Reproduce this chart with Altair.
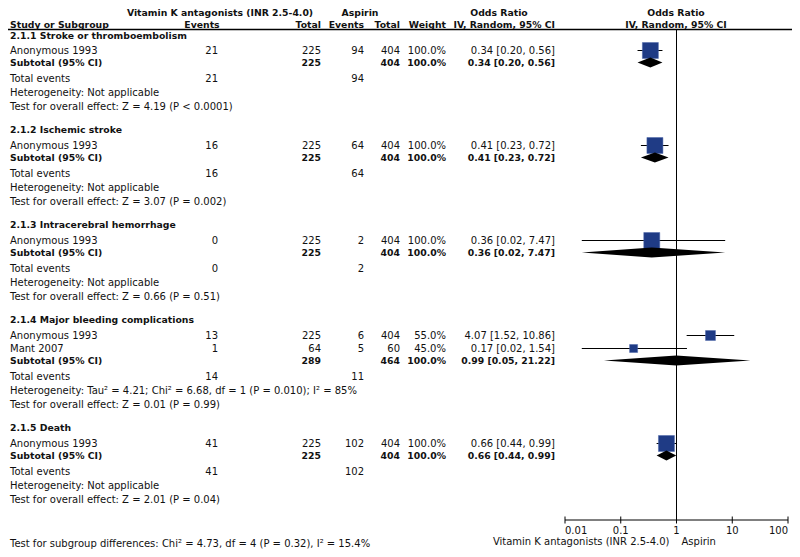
import altair as alt
import pandas as pd

# ---------------- data ----------------
group_titles = [
    "2.1.1 Stroke or thromboembolism",
    "2.1.2 Ischemic stroke",
    "2.1.3 Intracerebral hemorrhage",
    "2.1.4 Major bleeding complications",
    "2.1.5 Death",
]
study_group = [0, 1, 2, 3, 3, 4]
study_names = ["Anonymous 1993", "Anonymous 1993", "Anonymous 1993",
               "Anonymous 1993", "Mant 2007", "Anonymous 1993"]
vka_events = [21, 16, 0, 13, 1, 41]
vka_total = [225, 225, 225, 225, 64, 225]
asp_events = [94, 64, 2, 6, 5, 102]
asp_total = [404, 404, 404, 404, 60, 404]
study_weight = [100.0, 100.0, 100.0, 55.0, 45.0, 100.0]
study_or = [0.34, 0.41, 0.36, 4.07, 0.17, 0.66]
study_lo = [0.20, 0.23, 0.02, 1.52, 0.02, 0.44]
study_hi = [0.56, 0.72, 7.47, 10.86, 1.54, 0.99]

sub_vka_total = [225, 225, 225, 289, 225]
sub_asp_total = [404, 404, 404, 464, 404]
sub_or = [0.34, 0.41, 0.36, 0.99, 0.66]
sub_lo = [0.20, 0.23, 0.02, 0.05, 0.44]
sub_hi = [0.56, 0.72, 7.47, 21.22, 0.99]
tot_vka_events = [21, 16, 0, 14, 41]
tot_asp_events = [94, 64, 2, 11, 102]
heterogeneity = [
    "Not applicable", "Not applicable", "Not applicable",
    "Tau\u00b2 = 4.21; Chi\u00b2 = 6.68, df = 1 (P = 0.010); I\u00b2 = 85%",
    "Not applicable",
]
overall_effect = [
    "Z = 4.19 (P < 0.0001)", "Z = 3.07 (P = 0.002)", "Z = 0.66 (P = 0.51)",
    "Z = 0.01 (P = 0.99)", "Z = 2.01 (P = 0.04)",
]
subgroup_test = "Test for subgroup differences: Chi\u00b2 = 4.73, df = 4 (P = 0.32), I\u00b2 = 15.4%"
axis_ticks = [0.01, 0.1, 1, 10, 100]
axis_tick_labels = ["0.01", "0.1", "1", "10", "100"]
favours_left = "Vitamin K antagonists (INR 2.5-4.0)"
favours_right = "Aspirin"

# ---------------- layout ----------------
W, H = 784, 541
M = 8


def px(v):
    return v - M


X_STUDY, X_EV1, X_TOT1, X_EV2, X_TOT2, X_W, X_CI = 10, 218, 321, 364, 400, 446, 555
FOREST_L, FOREST_R = 565, 788
BLUE = "#1f3b85"
INK = "#111111"
HEAD1, HEAD2, HEAD_LINE = 13, 24.5, 29.5

texts = []


def T(text, x, y, align="left", bold=False):
    texts.append(dict(text=str(text), x=px(x), y=px(y), align=align, bold=bool(bold)))


# header
T("Vitamin K antagonists (INR 2.5-4.0)", 220, HEAD1, "center", True)
T("Aspirin", 360, HEAD1, "center", True)
T("Odds Ratio", 499, HEAD1, "center", True)
T("Odds Ratio", 676, HEAD1, "center", True)
T("Study or Subgroup", X_STUDY, HEAD2, "left", True)
T("Events", 202, HEAD2, "center", True)
T("Total", X_TOT1, HEAD2, "right", True)
T("Events", X_EV2, HEAD2, "right", True)
T("Total", X_TOT2, HEAD2, "right", True)
T("Weight", X_W, HEAD2, "right", True)
T("IV, Random, 95% CI", X_CI, HEAD2, "right", True)
T("IV, Random, 95% CI", 676, HEAD2, "center", True)

study_rows, sub_rows = [], []
y = 35.5
for g, title in enumerate(group_titles):
    T(title, X_STUDY, y, "left", True)
    y += 15 if g == 0 else 16
    first = True
    for i, sg in enumerate(study_group):
        if sg != g:
            continue
        if not first:
            y += 13
        first = False
        T(study_names[i], X_STUDY, y)
        T(vka_events[i], X_EV1, y, "right")
        T(vka_total[i], X_TOT1, y, "right")
        T(asp_events[i], X_EV2, y, "right")
        T(asp_total[i], X_TOT2, y, "right")
        T(f"{study_weight[i]:.1f}%", X_W, y, "right")
        T(f"{study_or[i]:.2f} [{study_lo[i]:.2f}, {study_hi[i]:.2f}]", X_CI, y, "right")
        study_rows.append(dict(y=px(y), est=study_or[i], lo=study_lo[i], hi=study_hi[i], w=study_weight[i]))
    y += 12
    T("Subtotal (95% CI)", X_STUDY, y, "left", True)
    T(sub_vka_total[g], X_TOT1, y, "right", True)
    T(sub_asp_total[g], X_TOT2, y, "right", True)
    T("100.0%", X_W, y, "right", True)
    T(f"{sub_or[g]:.2f} [{sub_lo[g]:.2f}, {sub_hi[g]:.2f}]", X_CI, y, "right", True)
    sub_rows.append(dict(g=g, y=px(y), est=sub_or[g], lo=sub_lo[g], hi=sub_hi[g]))
    y += 16
    T("Total events", X_STUDY, y)
    T(tot_vka_events[g], X_EV1, y, "right")
    T(tot_asp_events[g], X_EV2, y, "right")
    y += 14
    T("Heterogeneity: " + heterogeneity[g], X_STUDY, y)
    y += 14
    T("Test for overall effect: " + overall_effect[g], X_STUDY, y)
    y += 23

T(subgroup_test, X_STUDY, 543.5)

text_df = pd.DataFrame(texts)

xpix = alt.Scale(domain=[0, W], range=[0, W])
ypix = alt.Scale(domain=[0, H], range=[0, H])
xlog = alt.Scale(type="log", domain=[0.01, 100], range=[px(FOREST_L), px(FOREST_R)])

layers = []

# header rule
hl = pd.DataFrame([dict(x=0, x2=W, y=px(HEAD_LINE))])
layers.append(alt.Chart(hl).mark_rule(color="#000", strokeWidth=1.3).encode(
    x=alt.X("x:Q", scale=xpix, axis=None), x2="x2:Q",
    y=alt.Y("y:Q", scale=ypix, axis=None)))

# null line at OR = 1
nl = pd.DataFrame([dict(x=1.0, y=px(HEAD_LINE), y2=px(520))])
layers.append(alt.Chart(nl).mark_rule(color="#000", strokeWidth=1).encode(
    x=alt.X("x:Q", scale=xlog, axis=None),
    y=alt.Y("y:Q", scale=ypix, axis=None), y2="y2:Q"))

# whiskers
sdf = pd.DataFrame(study_rows)
layers.append(alt.Chart(sdf).mark_rule(color="#000", strokeWidth=1).encode(
    x=alt.X("lo:Q", scale=xlog, axis=None), x2="hi:Q",
    y=alt.Y("y:Q", scale=ypix, axis=None)))

# squares
layers.append(alt.Chart(sdf).mark_point(shape="square", filled=True, opacity=1,
                                         color=BLUE, stroke="#4a64a8", strokeWidth=0.5).encode(
    x=alt.X("est:Q", scale=xlog, axis=None),
    y=alt.Y("y:Q", scale=ypix, axis=None),
    size=alt.Size("w:Q", scale=alt.Scale(domain=[45, 100], range=[64, 256]), legend=None)))

# diamonds: one area layer each
HALF = 5
for r in sub_rows:
    d = pd.DataFrame([
        dict(x=r["lo"], y=r["y"], y2=r["y"]),
        dict(x=r["est"], y=r["y"] - HALF, y2=r["y"] + HALF),
        dict(x=r["hi"], y=r["y"], y2=r["y"]),
    ])
    layers.append(alt.Chart(d).mark_area(orient="vertical", color="#000", opacity=1).encode(
        x=alt.X("x:Q", scale=xlog, axis=None),
        y=alt.Y("y:Q", scale=ypix, axis=None, stack=None), y2="y2:Q"))

# forest axis
ax = pd.DataFrame([dict(x=axis_ticks[0], x2=axis_ticks[-1], y=px(520))])
layers.append(alt.Chart(ax).mark_rule(color="#000", strokeWidth=1).encode(
    x=alt.X("x:Q", scale=xlog, axis=None), x2="x2:Q",
    y=alt.Y("y:Q", scale=ypix, axis=None)))
tk = pd.DataFrame([dict(x=v, lab=l, y=px(516.5), y2=px(523.5), ly=px(530.5),
                        al=("left" if i == 0 else "right" if i == len(axis_ticks) - 1 else "center"))
                   for i, (v, l) in enumerate(zip(axis_ticks, axis_tick_labels))])
layers.append(alt.Chart(tk).mark_rule(color="#000", strokeWidth=1).encode(
    x=alt.X("x:Q", scale=xlog, axis=None),
    y=alt.Y("y:Q", scale=ypix, axis=None), y2="y2:Q"))
for al, part in tk.groupby("al"):
    layers.append(alt.Chart(part).mark_text(font="DejaVu Sans", fontSize=10, color=INK,
                                             baseline="middle", align=al).encode(
        x=alt.X("x:Q", scale=xlog, axis=None),
        y=alt.Y("ly:Q", scale=ypix, axis=None), text="lab:N"))
cap = pd.DataFrame([dict(x=1.0, y=px(542), t=favours_left)])
layers.append(alt.Chart(cap).mark_text(font="DejaVu Sans", fontSize=10, color=INK,
                                        baseline="middle", align="right", dx=-7).encode(
    x=alt.X("x:Q", scale=xlog, axis=None),
    y=alt.Y("y:Q", scale=ypix, axis=None), text="t:N"))
cap2 = pd.DataFrame([dict(x=1.0, y=px(542), t=favours_right)])
layers.append(alt.Chart(cap2).mark_text(font="DejaVu Sans", fontSize=10, color=INK,
                                         baseline="middle", align="left", dx=5).encode(
    x=alt.X("x:Q", scale=xlog, axis=None),
    y=alt.Y("y:Q", scale=ypix, axis=None), text="t:N"))

# table text
for (align, bold), df in text_df.groupby(["align", "bold"]):
    layers.append(alt.Chart(df).mark_text(
        align=align, baseline="middle", font="DejaVu Sans",
        fontSize=9.3 if bold else 10, fontWeight="bold" if bold else "normal",
        color=INK).encode(
        x=alt.X("x:Q", scale=xpix, axis=None),
        y=alt.Y("y:Q", scale=ypix, axis=None),
        text="text:N"))

chart = alt.layer(*layers).properties(
    width=W, height=H, padding=0,
    autosize=alt.AutoSizeParams(type="none"),
    background="white",
).resolve_scale(x="independent").configure_view(stroke=None)

chart.save("out.html", embed_options={"renderer": "svg", "actions": False})
